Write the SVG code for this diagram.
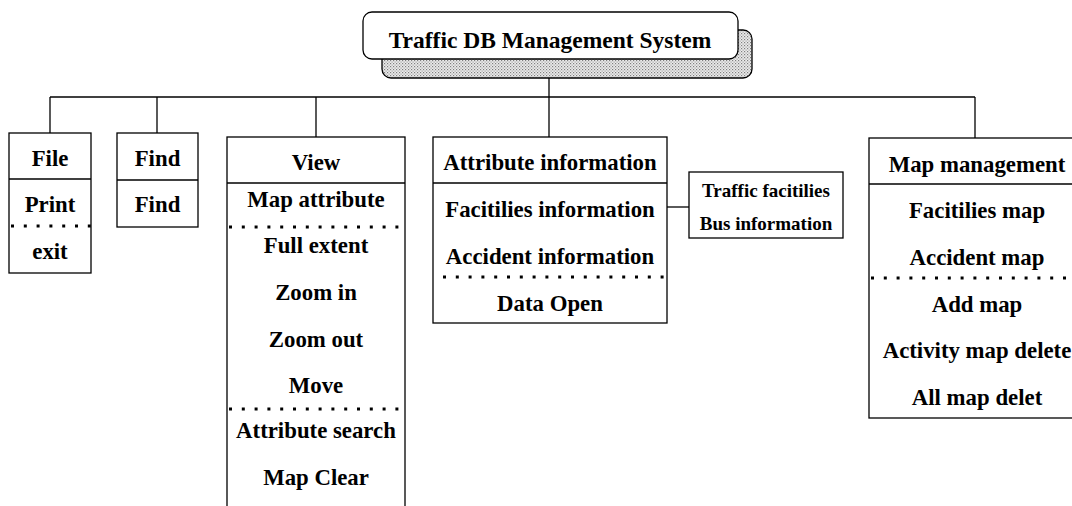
<svg xmlns="http://www.w3.org/2000/svg" width="1072" height="506" viewBox="0 0 1072 506">
  <style>
    .box { fill: #ffffff; stroke: #000000; stroke-width: 1.3; }
    .rule { stroke: #000000; stroke-width: 1.3; fill: none; }
    .dots { stroke: #000000; stroke-width: 2.8; stroke-dasharray: 3 9.8; fill: none; }
    .wire { stroke: #000000; stroke-width: 1.3; fill: none; }
    text { font-family: "Liberation Serif", "Times New Roman", serif; font-weight: bold; font-size: 22.8px; fill: #000000; text-anchor: middle; }
    .small { font-size: 19px; }
    .title { font-size: 23.5px; }
  </style>
  <defs>
    <!-- fine stipple used for the title's drop shadow -->
    <pattern id="stipple" width="3" height="3" patternUnits="userSpaceOnUse">
      <rect width="3" height="3" fill="#ececec"/>
      <rect x="0" y="0" width="1.2" height="1.2" fill="#808080"/>
      <rect x="1.5" y="1.5" width="1.2" height="1.2" fill="#a0a0a0"/>
    </pattern>
  </defs>

  <rect width="1072" height="506" fill="#ffffff"/>

  <!-- connectors -->
  <g id="connectors">
    <path class="wire" d="M549 60 V137"/>
    <path class="wire" d="M50 97 H975"/>
    <path class="wire" d="M50 97 V133"/>
    <path class="wire" d="M157 97 V133"/>
    <path class="wire" d="M316 97 V137"/>
    <path class="wire" d="M975 97 V138"/>
    <path class="wire" d="M667 207 H689"/>
  </g>

  <!-- root -->
  <g id="root">
    <rect x="382" y="30" width="370" height="48" rx="9" fill="url(#stipple)" stroke="#000" stroke-width="1.3"/>
    <rect x="363" y="12" width="375" height="47" rx="9" class="box"/>
    <text class="title" x="550" y="48">Traffic DB Management System</text>
  </g>

  <!-- File menu -->
  <g id="file">
    <rect x="9" y="133" width="82" height="140" class="box"/>
    <line x1="9" y1="179" x2="91" y2="179" class="rule"/>
    <line x1="11" y1="226" x2="91" y2="226" class="dots"/>
    <text x="50" y="166">File</text>
    <text x="50" y="212">Print</text>
    <text x="50" y="259">exit</text>
  </g>

  <!-- Find menu -->
  <g id="find">
    <rect x="117" y="133" width="81" height="94" class="box"/>
    <line x1="117" y1="180" x2="198" y2="180" class="rule"/>
    <text x="157.5" y="166">Find</text>
    <text x="157.5" y="212">Find</text>
  </g>

  <!-- View menu -->
  <g id="view">
    <rect x="227" y="137" width="178" height="380" class="box"/>
    <line x1="227" y1="183" x2="405" y2="183" class="rule"/>
    <line x1="229" y1="227" x2="405" y2="227" class="dots"/>
    <line x1="229" y1="409" x2="405" y2="409" class="dots"/>
    <text x="316" y="170">View</text>
    <text x="316" y="207">Map attribute</text>
    <text x="316" y="253">Full extent</text>
    <text x="316" y="300">Zoom in</text>
    <text x="316" y="347">Zoom out</text>
    <text x="316" y="393">Move</text>
    <text x="316" y="438">Attribute search</text>
    <text x="316" y="485">Map Clear</text>
  </g>

  <!-- Attribute information menu -->
  <g id="attribute">
    <rect x="433" y="137" width="234" height="186" class="box"/>
    <line x1="433" y1="183" x2="667" y2="183" class="rule"/>
    <line x1="443" y1="277" x2="667" y2="277" class="dots"/>
    <text x="550" y="170">Attribute information</text>
    <text x="550" y="217">Facitilies information</text>
    <text x="550" y="264">Accident information</text>
    <text x="550" y="311">Data Open</text>
  </g>

  <!-- facilities sub-items -->
  <g id="facilities">
    <rect x="689" y="172" width="154" height="66" class="box"/>
    <text class="small" x="766" y="197">Traffic facitilies</text>
    <text class="small" x="766" y="230">Bus information</text>
  </g>

  <!-- Map management menu -->
  <g id="map">
    <rect x="869" y="138" width="216" height="280" class="box"/>
    <line x1="869" y1="184" x2="1085" y2="184" class="rule"/>
    <line x1="871" y1="278" x2="1085" y2="278" class="dots"/>
    <text x="977" y="172">Map management</text>
    <text x="977" y="218">Facitilies map</text>
    <text x="977" y="265">Accident map</text>
    <text x="977" y="312">Add map</text>
    <text x="977" y="358">Activity map delete</text>
    <text x="977" y="405">All map delet</text>
  </g>
</svg>
